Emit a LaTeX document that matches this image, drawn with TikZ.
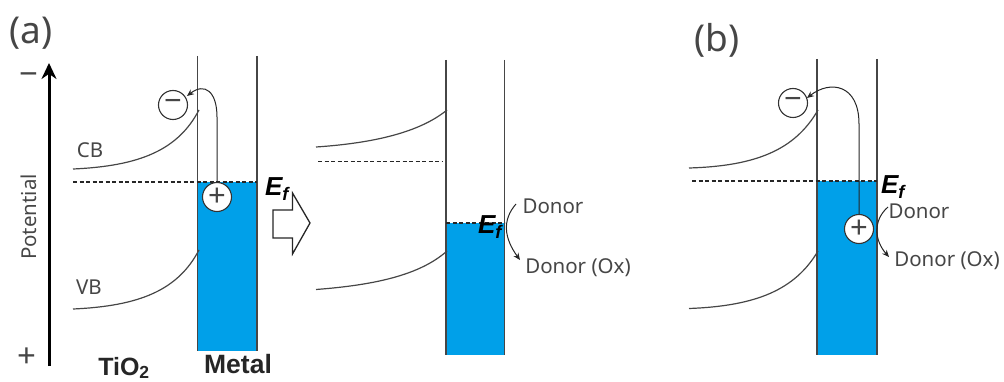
\documentclass[tikz,border=0pt]{standalone}
\usepackage{fontspec}
\usepackage{xcolor}
\setmainfont{Noto Sans}
\newfontfamily\boldlabel{Liberation Sans}
\usetikzlibrary{arrows.meta, calc}
\definecolor{metalblue}{RGB}{0,160,233}
\definecolor{inkgray}{RGB}{70,70,70}

\begin{document}
\begin{tikzpicture}[
    x=1pt, y=-1pt,
    wall/.style={draw=inkgray, line width=1.3pt},
    metal/.style={fill=metalblue},
    band/.style={draw=inkgray, line width=1.2pt},
    fermi/.style={draw=black!85, line width=1.1pt, dash pattern=on 4pt off 2.5pt},
    carrier/.style={circle, draw=black!80, line width=1.1pt, minimum size=29pt, inner sep=0pt, font=\fontsize{31}{31}\selectfont, text=inkgray},
    hole/.style={carrier, fill=white},
    arr/.style={-{Stealth[length=7pt, width=6pt]}, draw=black!85, line width=1pt},
    lbl/.style={text=inkgray, inner sep=0pt, font=\fontsize{20.5}{22}\selectfont},
    ferminame/.style={inner sep=0pt, text=black, font=\fontsize{26}{28}\selectfont\boldlabel\bfseries\itshape},
    plabel/.style={text=inkgray, inner sep=0pt, font=\fontsize{37}{38}\selectfont},
    sign/.style={text=inkgray, inner sep=0pt, font=\fontsize{33}{33}\selectfont},
    mat/.style={inner sep=0pt, text=black!85, font=\fontsize{25}{26}\selectfont\boldlabel\bfseries}
]
\useasboundingbox (0,0) rectangle (1004,382);

% Potential axis
\coordinate (axisb) at (49,366);
\coordinate (axist) at (49,63);
\draw[-{Stealth[length=16pt, width=15pt]}, line width=3pt, black] (axisb) -- (axist);
\node[sign] (neg) at (29,79) {\textminus};
\node[sign] (pos) at (27,358) {+};
\node[lbl, rotate=90] (pot) at (29,217) {Potential};

% Panel a
\node[plabel] (la) at (31,33) {(a)};
\fill[metal] (197.5,182) rectangle (257,351);
\draw[wall] (197.5,56) -- (197.5,351);
\draw[wall] (257,56) -- (257,351);
\draw[fermi] (73,182) -- (257,182);
\draw[band] (73,169) .. controls (140,166) and (178,150) .. (199,110);
\draw[band] (73,309) .. controls (140,306) and (178,290) .. (199,250);
\node[lbl] (cba) at (90,150) {CB};
\node[lbl] (vba) at (89,287) {VB};
\node[carrier] (mina) at (173,105) {\textminus};
\node[hole] (plusa) at (217,197) {+};
\draw[arr] (plusa.north) -- ++(0,-65) .. controls (217,92) and (205,82) .. (187,96);
\node[ferminame] (efa) at (277,189) {E\textsubscript{f}};
\node[mat] (tio) at (124,368) {TiO\textsubscript{2}};
\node[mat, font=\fontsize{26.5}{26}\selectfont\boldlabel\bfseries] (mta) at (238,364) {Metal};

% Shift between the two states
\draw[line width=1.3pt, black!85, fill=white] (273,210) -- (292.5,210) -- (292.5,193) -- (310,223) -- (292.5,254) -- (292.5,238) -- (273,238) -- cycle;

% Middle state
\fill[metal] (446,223) rectangle (504.5,355);
\draw[wall] (446,60) -- (446,355);
\draw[wall] (504.5,60) -- (504.5,355);
\draw[fermi] (318,161.5) -- (443,161.5);
\draw[fermi] (446,223) -- (504.5,223);
\draw[band] (316,147) .. controls (375,143) and (420,132) .. (447,110);
\draw[band] (316,289.5) .. controls (375,285) and (420,275) .. (447,251);
\node[ferminame] (efm) at (490,227) {E\textsubscript{f}};
\node[lbl] (donm) at (553,206) {Donor};
\node[lbl] (oxm) at (578,268) {Donor (Ox)};
\coordinate (dsm) at (516,204);
\coordinate (dem) at (520,260);
\draw[arr] (dsm) .. controls (502,220) and (504,238) .. (dem);

% Panel b
\node[plabel] (lb) at (717,40) {(b)};
\fill[metal] (817,181) rectangle (877,355);
\draw[wall] (817,59) -- (817,355);
\draw[wall] (877,59) -- (877,355);
\draw[fermi] (692,181) -- (877,181);
\draw[band] (689,168) .. controls (756,166) and (795,150) .. (818,110);
\draw[band] (689,308.5) .. controls (756,306) and (795,290) .. (818,251);
\node[carrier] (minb) at (793,103) {\textminus};
\node[hole] (plusb) at (859,229) {+};
\draw[arr] (plusb.north) -- ++(0,-90) .. controls (859,84) and (830,80) .. (807,98);
\node[ferminame] (efb) at (893,187) {E\textsubscript{f}};
\node[lbl] (donb) at (919,211) {Donor};
\node[lbl] (oxb) at (947,261) {Donor (Ox)};
\coordinate (dsb) at (888,207);
\coordinate (deb) at (889,257);
\draw[arr] (dsb) .. controls (873,220) and (874,240) .. (deb);

\end{tikzpicture}
\end{document}
